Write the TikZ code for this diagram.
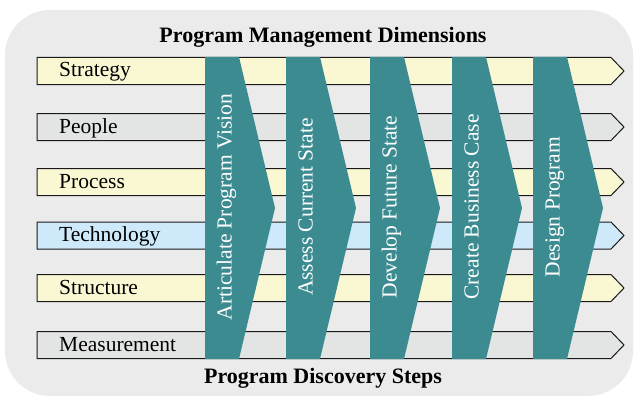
\documentclass[tikz,border=0pt]{standalone}
\usepackage{fontspec}
\setmainfont{Liberation Serif}
\definecolor{panelgrey}{HTML}{EBEBEB}
\definecolor{baryellow}{HTML}{FAF8D3}
\definecolor{bargrey}{HTML}{E3E5E5}
\definecolor{barblue}{HTML}{CDE9FA}
\definecolor{stepteal}{HTML}{3B8B91}
\begin{document}
\begin{tikzpicture}[x=1pt, y=-1pt,
	dimbar/.style={draw=black!90, line width=1pt},
	dimtext/.style={anchor=base west, inner sep=0pt, font=\fontsize{21.5}{25}\selectfont},
	steptext/.style={anchor=base, rotate=90, inner sep=0pt, text=white, font=\fontsize{21.5}{25}\selectfont},
	heading/.style={anchor=base, inner sep=0pt, font=\bfseries\fontsize{22}{26}\selectfont}]
	\useasboundingbox (0,0) rectangle (634,396);
	\fill[panelgrey, rounded corners=45pt] (5,10) rectangle (633,396);

	% management dimensions
	\foreach \name/\col/\y in {Strategy/baryellow/71, People/bargrey/127, Process/baryellow/182,
		Technology/barblue/235.5, Structure/baryellow/288, Measurement/bargrey/345}{
		\draw[dimbar, fill=\col] (37,\y-13.5) -- (611,\y-13.5) -- (624,\y) -- (611,\y+13.5) -- (37,\y+13.5) -- cycle;
		\node[dimtext] (\name) at (59,\y+6) {\name};
	}

	% discovery steps
	\foreach \x/\name/\txt in {205/vision/Articulate Program Vision, 286/current/Assess Current State,
		370/future/Develop Future State, 452/case/Create Business Case, 533/design/Design Program}{
		\fill[stepteal] (\x,57) -- (\x+34,57) -- (\x+70,208) -- (\x+34,359) -- (\x,359) -- cycle;
		\node[steptext] (\name) at (\x+26.5,207) {\txt};
	}

	\node[heading] (dims) at (323,42) {Program Management Dimensions};
	\node[heading] (steps) at (323,383) {Program Discovery Steps};
\end{tikzpicture}
\end{document}
